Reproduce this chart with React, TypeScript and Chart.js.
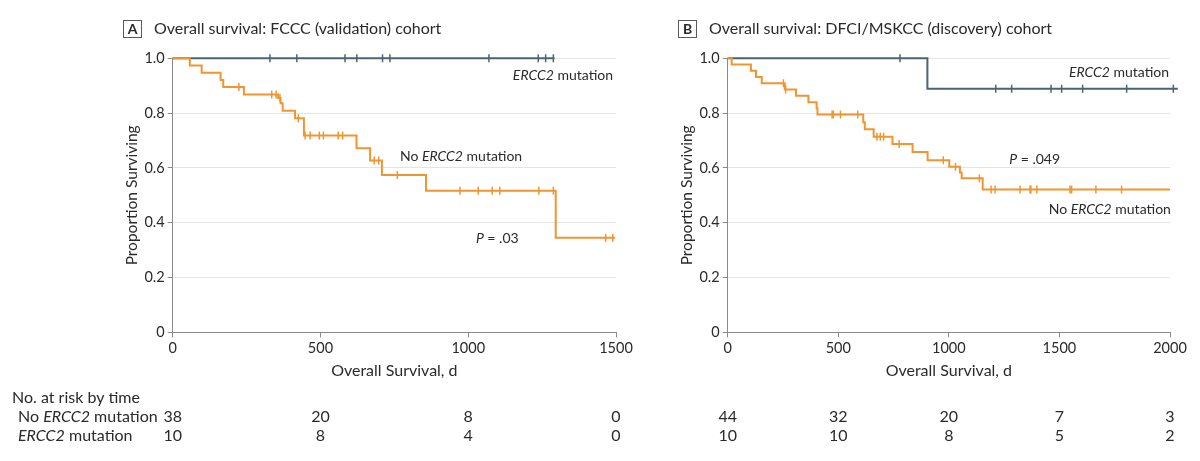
import React, { useEffect, useRef } from 'react';
import { Chart, registerables } from 'chart.js';

Chart.register(...registerables);

// ---------- DATA ----------
// Panel A: FCCC (validation) cohort
const A_X_TICKS = [0, 500, 1000, 1500];
const A_NO_TIMES = [0, 58, 98, 162, 171, 241, 357, 365, 372, 414, 444, 622, 668, 708, 857, 1296];
const A_NO_SURV = [1, 0.974, 0.947, 0.921, 0.895, 0.868, 0.855, 0.836, 0.809, 0.781, 0.718, 0.672, 0.627, 0.574, 0.517, 0.345];
const A_NO_END = 1497;
const A_NO_CENSOR = [224, 335, 350, 363, 425, 448, 465, 496, 510, 560, 575, 682, 697, 760, 972, 1034, 1081, 1107, 1239, 1288, 1465, 1489];
const A_MUT_TIMES = [0];
const A_MUT_SURV = [1];
const A_MUT_END = 1292;
const A_MUT_CENSOR = [329, 420, 583, 623, 710, 735, 1070, 1237, 1262, 1288];
const A_RISK_NO = [38, 20, 8, 0];
const A_RISK_MUT = [10, 8, 4, 0];

// Panel B: DFCI/MSKCC (discovery) cohort
const B_X_TICKS = [0, 500, 1000, 1500, 2000];
const B_NO_TIMES = [0, 18, 105, 128, 154, 258, 309, 365, 402, 406, 613, 620, 660, 745, 836, 904, 1002, 1050, 1058, 1153];
const B_NO_SURV = [1, 0.977, 0.955, 0.932, 0.909, 0.886, 0.863, 0.84, 0.818, 0.795, 0.767, 0.741, 0.714, 0.687, 0.658, 0.628, 0.604, 0.583, 0.562, 0.521];
const B_NO_END = 2000;
const B_NO_CENSOR = [252, 262, 472, 478, 510, 588, 675, 690, 705, 775, 975, 1030, 1138, 1191, 1209, 1322, 1367, 1371, 1398, 1548, 1555, 1665, 1781];
const B_MUT_TIMES = [0, 903];
const B_MUT_SURV = [1, 0.889];
const B_MUT_END = 2035;
const B_MUT_CENSOR = [779, 1212, 1284, 1462, 1510, 1605, 1804, 2015];
const B_RISK_NO = [44, 32, 20, 7, 3];
const B_RISK_MUT = [10, 10, 8, 5, 2];

// ---------- STYLE ----------
const FONT = 'Lato, "Noto Sans", "DejaVu Sans", sans-serif';
const TEXT = '#2a2a2a';
const AXIS = '#8a8a8a';
const GRID = '#e4e4e4';
const ORANGE = '#f0952f';
const SLATE = '#4a6470';

type Seg = { t: string; i?: boolean };

function fontStr(size: number, italic?: boolean, bold?: boolean) {
  return `${italic ? 'italic ' : ''}${bold ? 'bold ' : ''}${size}px ${FONT}`;
}

function drawRich(ctx: CanvasRenderingContext2D, segs: Seg[], x: number, y: number, align: string, size: number) {
  const widths = segs.map((s) => {
    ctx.font = fontStr(size, s.i);
    return ctx.measureText(s.t).width;
  });
  const total = widths.reduce((a, b) => a + b, 0);
  let cx = align === 'right' ? x - total : align === 'center' ? x - total / 2 : x;
  ctx.textAlign = 'left';
  ctx.textBaseline = 'middle';
  segs.forEach((s, k) => {
    ctx.font = fontStr(size, s.i);
    ctx.fillText(s.t, cx, y);
    cx += widths[k];
  });
}

function curve(times: number[], surv: number[], end: number) {
  const pts = times.map((t, i) => ({ x: t, y: surv[i] }));
  pts.push({ x: end, y: surv[surv.length - 1] });
  return pts;
}

function survAt(times: number[], surv: number[], t: number) {
  let v = surv[0];
  for (let i = 0; i < times.length; i++) if (times[i] <= t) v = surv[i];
  return v;
}

function censorPts(times: number[], surv: number[], cens: number[]) {
  return cens.map((c) => ({ x: c, y: survAt(times, surv, c) }));
}

const overlay = {
  id: 'kmOverlay',
  afterDraw(chart: any, _args: any, opts: any) {
    const { ctx, chartArea, scales } = chart;
    const xs = scales.x;
    const ys = scales.y;
    ctx.save();
    // panel title
    const bx = Math.round(chartArea.left - 49.5);
    ctx.strokeStyle = '#5a5a5a';
    ctx.lineWidth = 1;
    ctx.strokeRect(bx + 0.5, 20.5, 18, 17);
    ctx.fillStyle = TEXT;
    ctx.font = fontStr(14, false, true);
    ctx.textAlign = 'center';
    ctx.textBaseline = 'middle';
    ctx.fillText(opts.letter, bx + 9.5, 29.5);
    drawRich(ctx, [{ t: opts.title }], bx + 31, 29, 'left', 16);
    // annotations
    opts.notes.forEach((n: any) => {
      drawRich(ctx, n.segs, xs.getPixelForValue(n.x), ys.getPixelForValue(n.y), n.align, 14);
    });
    // number at risk
    if (opts.rowLabels) {
      drawRich(ctx, [{ t: 'No. at risk by time' }], 12, 398, 'left', 16);
      drawRich(ctx, [{ t: 'No ' }, { t: 'ERCC2', i: true }, { t: ' mutation' }], 18, 417, 'left', 16);
      drawRich(ctx, [{ t: 'ERCC2', i: true }, { t: ' mutation' }], 18, 436, 'left', 16);
    }
    opts.ticks.forEach((t: number, k: number) => {
      const px = xs.getPixelForValue(t);
      drawRich(ctx, [{ t: String(opts.riskNo[k]) }], px, 417, 'center', 16);
      drawRich(ctx, [{ t: String(opts.riskMut[k]) }], px, 436, 'center', 16);
    });
    ctx.restore();
  },
};

function KMPanel(props: any) {
  const ref = useRef<HTMLCanvasElement>(null);
  const p = props.cfg;
  useEffect(() => {
    const lineDs = (data: any, color: string) => ({
      data,
      borderColor: color,
      backgroundColor: color,
      borderWidth: 2,
      stepped: true,
      pointRadius: 0,
      clip: false,
      fill: false,
    });
    const censDs = (data: any, color: string) => ({
      data,
      showLine: false,
      pointStyle: 'line',
      rotation: 90,
      pointRadius: 4,
      pointBorderWidth: 1.5,
      pointBorderColor: color,
      pointBackgroundColor: color,
      borderColor: color,
      clip: false,
    });
    const chart = new Chart(ref.current as HTMLCanvasElement, {
      type: 'line',
      data: {
        datasets: [
          lineDs(curve(p.noTimes, p.noSurv, p.noEnd), ORANGE),
          lineDs(curve(p.mutTimes, p.mutSurv, p.mutEnd), SLATE),
          censDs(censorPts(p.noTimes, p.noSurv, p.noCens), ORANGE),
          censDs(censorPts(p.mutTimes, p.mutSurv, p.mutCens), SLATE),
        ],
      },
      options: {
        animation: false,
        responsive: false,
        devicePixelRatio: 1,
        events: [],
        layout: { padding: { left: p.padLeft, right: p.padRight, top: 58.3, bottom: 76.6 } },
        plugins: {
          legend: { display: false },
          tooltip: { enabled: false },
          kmOverlay: {
            letter: p.letter,
            title: p.title,
            notes: p.notes,
            rowLabels: p.rowLabels,
            ticks: p.ticks,
            riskNo: p.riskNo,
            riskMut: p.riskMut,
          },
        },
        scales: {
          x: {
            type: 'linear',
            min: 0,
            max: p.ticks[p.ticks.length - 1],
            afterFit: (s: any) => {
              s.height = 52;
            },
            afterBuildTicks: (s: any) => {
              s.ticks = p.ticks.map((v: number) => ({ value: v }));
            },
            ticks: {
              color: TEXT,
              font: { family: FONT, size: 14.5 },
              padding: 2,
              maxRotation: 0,
              autoSkip: false,
              callback: (v: any) => String(v),
            },
            grid: { display: true, drawOnChartArea: false, tickLength: 5, tickColor: AXIS, tickWidth: 1 },
            border: { color: AXIS, width: 1 },
            title: {
              display: true,
              text: 'Overall Survival, d',
              color: TEXT,
              font: { family: FONT, size: 16 },
              padding: { top: 4, bottom: 4 },
            },
          },
          y: {
            min: 0,
            max: 1,
            afterFit: (s: any) => {
              s.width = 54.1;
            },
            ticks: {
              stepSize: 0.2,
              color: TEXT,
              font: { family: FONT, size: 14.5 },
              padding: 3,
              callback: (v: any) => (Number(v) === 0 ? '0' : Number(v).toFixed(1)),
            },
            grid: { color: GRID, tickColor: AXIS, tickLength: 5, lineWidth: 1 },
            border: { color: AXIS, width: 1 },
            title: {
              display: true,
              text: 'Proportion Surviving',
              color: TEXT,
              font: { family: FONT, size: 15.5 },
              padding: { top: 4, bottom: 4 },
            },
          },
        },
      } as any,
      plugins: [overlay as any],
    });
    return () => chart.destroy();
  }, []);
  return (
    <canvas
      ref={ref}
      width={props.width}
      height={461}
      style={{ position: 'absolute', left: props.left, top: 0, width: props.width, height: 461 }}
    />
  );
}

const PANEL_A = {
  letter: 'A',
  title: 'Overall survival: FCCC (validation) cohort',
  noTimes: A_NO_TIMES,
  noSurv: A_NO_SURV,
  noEnd: A_NO_END,
  noCens: A_NO_CENSOR,
  mutTimes: A_MUT_TIMES,
  mutSurv: A_MUT_SURV,
  mutEnd: A_MUT_END,
  mutCens: A_MUT_CENSOR,
  ticks: A_X_TICKS,
  riskNo: A_RISK_NO,
  riskMut: A_RISK_MUT,
  rowLabels: true,
  padLeft: 118.6,
  padRight: 24,
  notes: [
    { segs: [{ t: 'ERCC2', i: true }, { t: ' mutation' }], x: 1490, y: 0.939, align: 'right' },
    { segs: [{ t: 'No ' }, { t: 'ERCC2', i: true }, { t: ' mutation' }], x: 769, y: 0.643, align: 'left' },
    { segs: [{ t: 'P', i: true }, { t: ' = .03' }], x: 1026, y: 0.344, align: 'left' },
  ],
};

const PANEL_B = {
  letter: 'B',
  title: 'Overall survival: DFCI/MSKCC (discovery) cohort',
  noTimes: B_NO_TIMES,
  noSurv: B_NO_SURV,
  noEnd: B_NO_END,
  noCens: B_NO_CENSOR,
  mutTimes: B_MUT_TIMES,
  mutSurv: B_MUT_SURV,
  mutEnd: B_MUT_END,
  mutCens: B_MUT_CENSOR,
  ticks: B_X_TICKS,
  riskNo: B_RISK_NO,
  riskMut: B_RISK_MUT,
  rowLabels: false,
  padLeft: 33.6,
  padRight: 30,
  notes: [
    { segs: [{ t: 'ERCC2', i: true }, { t: ' mutation' }], x: 1996, y: 0.949, align: 'right' },
    { segs: [{ t: 'P', i: true }, { t: ' = .049' }], x: 1273, y: 0.632, align: 'left' },
    { segs: [{ t: 'No ' }, { t: 'ERCC2', i: true }, { t: ' mutation' }], x: 2004, y: 0.449, align: 'right' },
  ],
};

export default function App() {
  return (
    <div style={{ position: 'fixed', left: 0, top: 0, width: 1200, height: 461, background: '#ffffff', overflow: 'hidden' }}>
      <KMPanel cfg={PANEL_A} left={0} width={640} />
      <KMPanel cfg={PANEL_B} left={640} width={560} />
    </div>
  );
}
